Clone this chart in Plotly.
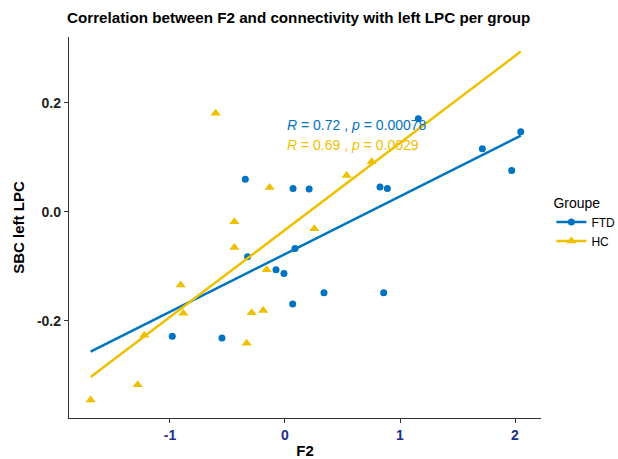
import numpy as np
import plotly.graph_objects as go

# FTD group
ftd_x = [-0.345, 0.070, 0.210, -0.325, 0.087, -0.078, -0.009, 0.067, -0.980, -0.548,
         1.159, 2.050, 1.716, 1.971, 0.826, 0.890, 0.339, 0.858]
ftd_y = [0.060, 0.043, 0.042, -0.082, -0.067, -0.106, -0.113, -0.169, -0.228, -0.231,
         0.171, 0.147, 0.116, 0.076, 0.046, 0.043, -0.148, -0.148]
# HC group
hc_x = [-0.603, -0.133, -0.440, -0.440, -0.159, -0.907, -0.884, -0.290, -0.189, -1.223,
        -0.333, -1.281, -1.690, 0.754, 0.536, 0.255]
hc_y = [0.181, 0.045, -0.018, -0.065, -0.106, -0.134, -0.186, -0.185, -0.181, -0.226,
        -0.241, -0.317, -0.345, 0.092, 0.067, -0.031]

groups = ["FTD", "HC"]
colors = ["#0073C2", "#EFC000"]
symbols = ["circle", "triangle-up"]
cor_labels = ["<i>R</i> = 0.72 , <i>p</i> = 0.00078", "<i>R</i> = 0.69 , <i>p</i> = 0.0029"]
x_ticks = [-1, 0, 1, 2]
y_ticks = [-0.2, 0.0, 0.2]
y_ticklabels = ["-0.2", "0.0", "0.2"]

FONT = "Liberation Sans, Arial, Helvetica, sans-serif"

fig = go.Figure()
all_x = np.array(ftd_x + hc_x)
xr = np.array([all_x.min(), all_x.max()])

for name, xs, ys, col, sym, size in [
    (groups[0], ftd_x, ftd_y, colors[0], symbols[0], 7),
    (groups[1], hc_x, hc_y, colors[1], symbols[1], 9),
]:
    b, a = np.polyfit(np.array(xs), np.array(ys), 1)
    fig.add_trace(go.Scatter(x=xr, y=a + b * xr, mode="lines",
                             line=dict(color=col, width=2.5), showlegend=False,
                             hoverinfo="skip"))
    fig.add_trace(go.Scatter(x=xs, y=ys, mode="markers",
                             marker=dict(color=col, symbol=sym, size=size),
                             showlegend=False))
    fig.add_trace(go.Scatter(x=[None], y=[None], mode="lines+markers", name=name,
                             line=dict(color=col, width=2.5),
                             marker=dict(color=col, symbol=sym, size=size)))

for lab, col, yy in zip(cor_labels, colors, [0.160, 0.123]):
    fig.add_annotation(x=0, y=yy, xref="x", yref="y", text=lab, showarrow=False,
                       xanchor="left", yanchor="middle",
                       font=dict(family=FONT, size=14, color=col))

fig.update_layout(
    width=618, height=459,
    margin=dict(l=69, r=77, t=37, b=41, autoexpand=False),
    paper_bgcolor="white", plot_bgcolor="white",
    font=dict(family=FONT, color="black"),
    title=dict(text="<b>Correlation between F2 and connectivity with left LPC per group</b>",
               x=67 / 618, xref="container", xanchor="left",
               y=1 - 18 / 459, yref="container", yanchor="middle",
               font=dict(family=FONT, size=15.2, color="black")),
    legend=dict(x=1.022, y=0.60, xanchor="left", yanchor="top",
                title=dict(text="Groupe", font=dict(family=FONT, size=14)),
                font=dict(family=FONT, size=12, color="black"),
                bgcolor="rgba(0,0,0,0)", itemwidth=30, tracegroupgap=6),
)
fig.update_xaxes(range=[-1.878, 2.226], tickvals=x_ticks, ticktext=[str(t) for t in x_ticks],
                 showgrid=False, zeroline=False, showline=True, linecolor="#333333",
                 linewidth=1.3, ticks="outside", ticklen=4, tickcolor="#333333",
                 automargin=False,
                 tickfont=dict(family=FONT, size=14, color="#1f2f8c", weight="bold"),
                 title=dict(text="<b>F2</b>", font=dict(family=FONT, size=15), standoff=4))
fig.update_yaxes(range=[-0.378, 0.321], tickvals=y_ticks, ticktext=y_ticklabels,
                 showgrid=False, zeroline=False, showline=True, linecolor="#333333",
                 linewidth=1.3, ticks="outside", ticklen=4, tickcolor="#333333",
                 automargin=False,
                 tickfont=dict(family=FONT, size=14, color="#222222", weight="bold"),
                 title=dict(text="<b>SBC left LPC</b>", font=dict(family=FONT, size=15), standoff=8))

fig.write_html("out.html")
